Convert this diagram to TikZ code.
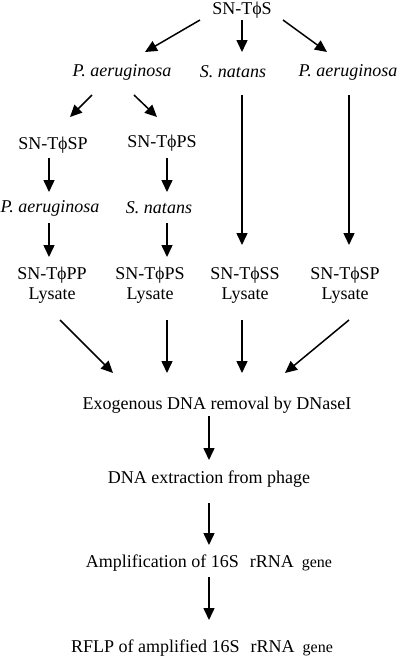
\documentclass[tikz,border=0pt]{standalone}
\usepackage{fontspec}
\setmainfont{Liberation Serif}
\usetikzlibrary{arrows.meta,calc}
\begin{document}
\begin{tikzpicture}[x=1pt,y=-1pt,
  lbl/.style={inner sep=0pt,font=\fontsize{18}{20}\selectfont,align=center},
  it/.style={lbl,font=\fontsize{18}{20}\selectfont\itshape},
  arr/.style={line width=1.5pt,-{Triangle[length=12pt,width=11pt]}}]
\useasboundingbox (0,0) rectangle (400,662);
\node[lbl] (top) at (242,10) {SN-TϕS};
\node[it] (pa1) at (122,72) {P. aeruginosa};
\node[it] (sn1) at (233,72) {S. natans};
\node[it] (pa2) at (348,72) {P. aeruginosa};
\node[lbl] (sp) at (53,145) {SN-TϕSP};
\node[lbl] (ps) at (162,143) {SN-TϕPS};
\node[it] (pa3) at (50,208) {P. aeruginosa};
\node[it] (sn3) at (159,208) {S. natans};
\node[lbl] (l1) at (52,285) {SN-TϕPP\\Lysate};
\node[lbl] (l2) at (150,285) {SN-TϕPS\\Lysate};
\node[lbl] (l3) at (245,285) {SN-TϕSS\\Lysate};
\node[lbl] (l4) at (345,285) {SN-TϕSP\\Lysate};
\node[lbl] (exo) at (217,405) {Exogenous DNA removal by DNaseI};
\node[lbl] (dna) at (209,479) {DNA extraction from phage};
\node[lbl] (amp) at (209,563) {Amplification of 16S\hspace{11pt}rRNA\hspace{8pt}{\fontsize{16}{18}\selectfont gene}};
\node[lbl] (rflp) at (202,648) {RFLP of amplified 16S\hspace{11pt}rRNA\hspace{8pt}{\fontsize{16}{18}\selectfont gene}};
\draw[arr] ($(top)+(-42,10)$) -- ($(pa1)+(23,-20)$);
\draw[arr] ($(top)+(0,10)$) -- ($(sn1)+(9,-20)$);
\draw[arr] ($(top)+(41,10)$) -- ($(pa2)+(-21,-20)$);
\draw[arr] ($(pa1)+(-30,23)$) -- ($(sp)+(17,-28)$);
\draw[arr] ($(pa1)+(12,23)$) -- ($(ps)+(-5,-26)$);
\draw[arr] ($(sp)+(-4,13)$) -- ($(pa3)+(-1,-16)$);
\draw[arr] ($(ps)+(5,15)$) -- ($(sn3)+(8,-16)$);
\draw[arr] ($(pa3)+(-1,15)$) -- ($(l1)+(-3,-28)$);
\draw[arr] ($(sn3)+(8,15)$) -- ($(l2)+(17,-28)$);
\draw[arr] ($(sn1)+(9,23)$) -- ($(l3)+(-3,-40)$);
\draw[arr] ($(pa2)+(1,23)$) -- ($(l4)+(4,-40)$);
\draw[arr] ($(l1)+(8,35)$) -- ($(exo)+(-104,-32)$);
\draw[arr] ($(l2)+(17,35)$) -- ($(exo)+(-50,-32)$);
\draw[arr] ($(l3)+(-3,35)$) -- ($(exo)+(25,-32)$);
\draw[arr] ($(l4)+(4,35)$) -- ($(exo)+(68,-32)$);
\draw[arr] ($(exo)+(-8,11)$) -- ($(dna)+(0,-19)$);
\draw[arr] ($(dna)+(0,24)$) -- ($(amp)+(0,-18)$);
\draw[arr] ($(amp)+(0,14)$) -- ($(rflp)+(7,-28)$);
\end{tikzpicture}
\end{document}
